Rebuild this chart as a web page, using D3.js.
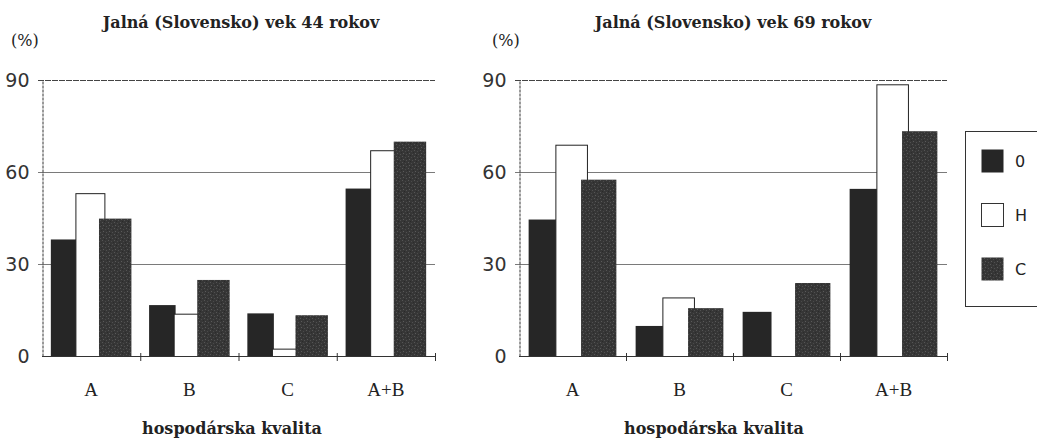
<!DOCTYPE html>
<html>
<head>
<meta charset="utf-8">
<script src="https://cdn.jsdelivr.net/npm/d3@7"></script>
<style>
  html, body { margin: 0; padding: 0; background: #fff; }
  svg { display: block; }
</style>
</head>
<body>
<svg id="chart" width="1037" height="439"></svg>
<script>
// ---- data ----
const categories = ["A", "B", "C", "A+B"];
const seriesNames = ["0", "H", "C"];
const yTicks = [0, 30, 60, 90];

const titleLeft = "Jalná (Slovensko) vek 44 rokov";
const age44_0 = [38.0, 16.6, 13.9, 54.6];
const age44_H = [53.1, 13.8, 2.4, 67.1];
const age44_C = [44.8, 24.8, 13.3, 69.9];

const titleRight = "Jalná (Slovensko) vek 69 rokov";
const age69_0 = [44.5, 9.8, 14.4, 54.5];
const age69_H = [68.9, 19.1, 0, 88.6];
const age69_C = [57.5, 15.6, 23.8, 73.3];

const unitLabel = "(%)";
const xTitle = "hospodárska kvalita";

// ---- rendering ----
const svg = d3.select("#chart");
const serif = "'Liberation Serif', 'DejaVu Serif', serif";
const wideSerif = "'DejaVu Serif', 'Liberation Serif', serif";
const sans = "'DejaVu Sans', 'Liberation Sans', sans-serif";

const defs = svg.append("defs");
const pat = defs.append("pattern").attr("id", "speckle")
  .attr("width", 6).attr("height", 6).attr("patternUnits", "userSpaceOnUse");
pat.append("rect").attr("width", 6).attr("height", 6).attr("fill", "#363636");
[[0,0,"#555"],[3,1,"#4a4a4a"],[1,3,"#5a5a5a"],[4,4,"#505050"],[2,5,"#2a2a2a"],[5,2,"#2c2c2c"]]
  .forEach(([x,y,c]) => pat.append("rect").attr("x", x).attr("y", y).attr("width", 1).attr("height", 1).attr("fill", c));

const seriesStyle = {
  "0": { fill: "#262626", stroke: "none", from: 0.09, to: 0.36 },
  "H": { fill: "#ffffff", stroke: "#222", from: 0.34, to: 0.635 },
  "C": { fill: "url(#speckle)", stroke: "none", from: 0.58, to: 0.91 }
};

function panel(opts) {
  const { x0, x1, title, data, labelX, unitX, titleX } = opts;
  const yTop = 80, yBot = 356;
  const x = d3.scaleBand().domain(categories).range([x0, x1]).padding(0);
  const y = d3.scaleLinear().domain([0, 90]).range([yBot, yTop]);
  const g = svg.append("g");

  // gridlines (30, 60) and top line (90)
  g.selectAll("line.grid").data(yTicks.filter(t => t > 0)).enter().append("line")
    .attr("x1", x0 - 4).attr("x2", x1)
    .attr("y1", d => y(d) + 0.5).attr("y2", d => y(d) + 0.5)
    .attr("stroke", d => d === 90 ? "#444" : "#7a7a7a")
    .attr("stroke-width", d => d === 90 ? 1.2 : 1)
    .attr("stroke-dasharray", d => d === 90 ? "6,1" : null);

  // bars
  seriesNames.forEach((s, si) => {
    const st = seriesStyle[s];
    const bw = x.bandwidth();
    g.selectAll("rect.s" + si).data(categories.map((c, i) => ({ c, v: data[si][i] })))
      .enter().append("rect")
      .filter(d => d.v > 0)
      .attr("x", d => x(d.c) + bw * st.from + (st.stroke !== "none" ? 0.5 : 0))
      .attr("width", bw * (st.to - st.from))
      .attr("y", d => y(d.v) + (st.stroke !== "none" ? 0.5 : 0))
      .attr("height", d => y(0) - y(d.v))
      .attr("fill", st.fill)
      .attr("stroke", st.stroke)
      .attr("stroke-width", 1);
  });

  // y axis
  const yAxis = d3.axisLeft(y).tickValues(yTicks).tickSize(0).tickPadding(13);
  const ya = g.append("g").attr("transform", `translate(${x0 + 0.5},0)`).call(yAxis);
  ya.select(".domain").attr("stroke", "#333").attr("stroke-dasharray", "3,1");
  ya.selectAll("text").attr("font-family", sans).attr("font-size", 19).attr("fill", "#333")
    .attr("dy", "0.35em");

  // x axis with category labels
  const xAxis = d3.axisBottom(x).tickSize(0).tickPadding(26);
  const xa = g.append("g").attr("transform", `translate(0,${yBot + 0.5})`).call(xAxis);
  xa.select(".domain").attr("stroke", "#333").attr("d", `M${x0},0H${x1}`);
  xa.selectAll("text").attr("font-family", serif).attr("font-size", 19).attr("fill", "#222");

  // boundary ticks between categories
  const bounds = categories.map(c => x(c) + x.bandwidth());
  g.selectAll("line.bt").data(bounds).enter().append("line")
    .attr("x1", d => d + 0.5).attr("x2", d => d + 0.5)
    .attr("y1", yBot - 3).attr("y2", yBot + 5)
    .attr("stroke", "#333");

  // title
  g.append("text").attr("x", titleX).attr("y", 28).attr("text-anchor", "middle")
    .attr("font-family", wideSerif).attr("font-weight", "bold").attr("font-size", 16)
    .attr("fill", "#222").text(title);
  // unit
  g.append("text").attr("x", unitX).attr("y", 46)
    .attr("font-family", wideSerif).attr("font-size", 16)
    .attr("fill", "#222").text(unitLabel);
  // x title
  g.append("text").attr("x", labelX).attr("y", 434).attr("text-anchor", "middle")
    .attr("font-family", wideSerif).attr("font-weight", "bold").attr("font-size", 16)
    .attr("fill", "#222").text(xTitle);
}

panel({ x0: 42, x1: 435, title: titleLeft, data: [age44_0, age44_H, age44_C],
        titleX: 241, unitX: 11, labelX: 232 });
panel({ x0: 519, x1: 947, title: titleRight, data: [age69_0, age69_H, age69_C],
        titleX: 733, unitX: 492, labelX: 714 });

// legend
const lg = svg.append("g");
lg.append("rect").attr("x", 965.5).attr("y", 131.5).attr("width", 100).attr("height", 175)
  .attr("fill", "none").attr("stroke", "#333");
const legY = d3.scalePoint().domain(seriesNames).range([149, 257]);
seriesNames.forEach(s => {
  const st = seriesStyle[s];
  lg.append("rect").attr("x", 981.5).attr("y", legY(s) + 0.5).attr("width", 22).attr("height", 23)
    .attr("fill", st.fill).attr("stroke", st.stroke === "none" ? "none" : "#333");
  lg.append("text").attr("x", 1015).attr("y", legY(s) + 12).attr("dy", "0.35em")
    .attr("font-family", sans).attr("font-size", 16).attr("fill", "#222").text(s);
});
</script>
</body>
</html>
